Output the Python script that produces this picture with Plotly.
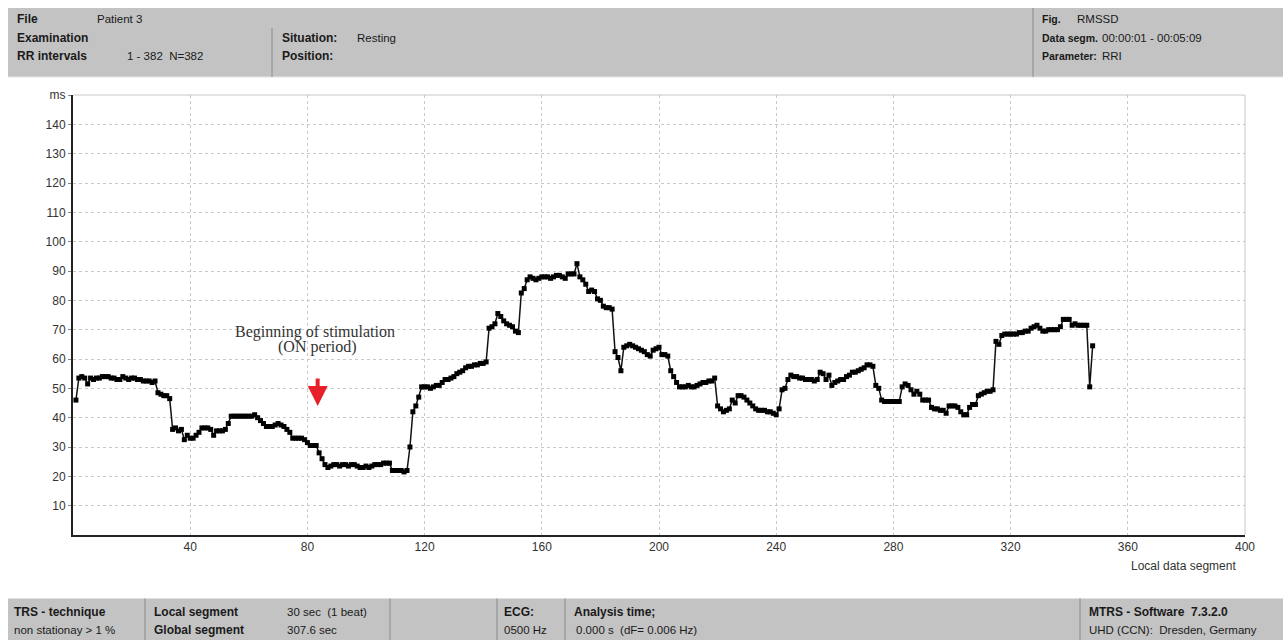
import plotly.graph_objects as go

# ---------------- data ----------------
segment_index = list(range(1, 349))
rmssd_ms = [
    46, 53.5, 54, 53.5, 51.5, 53.5, 53, 53.5, 53.5, 54,
    54, 54, 53.5, 53.5, 53, 53, 54, 53.5, 53, 53.5,
    53.5, 53, 53, 52.5, 52.5, 52.5, 52, 52.5, 48.5, 48,
    47.5, 47.5, 46.5, 36, 36.5, 35.5, 36, 32.5, 34, 33,
    33, 34, 35, 36.5, 36.5, 36.5, 36, 34, 35.5, 35.5,
    35.5, 36, 38, 40.5, 40.5, 40.5, 40.5, 40.5, 40.5, 40.5,
    40.5, 41, 40, 39, 38, 37, 37, 37, 37.5, 38,
    37.5, 37, 36, 35, 33, 33, 33, 33, 32.5, 31.5,
    30.5, 30.5, 30.5, 28, 26, 24, 23, 23.5, 24, 24,
    23.5, 24, 24, 23.5, 24, 24, 23.5, 23, 23, 23.5,
    23, 23.5, 24, 24, 24, 24.5, 24.5, 24.5, 22, 22,
    22, 22, 21.5, 22, 30, 42, 44, 47, 50.5, 50.5,
    50.5, 50, 50.5, 51, 51, 52, 53, 53, 53.5, 54,
    55, 55.5, 56, 57, 57.5, 57.5, 58, 58, 58.5, 58.5,
    59, 70.5, 71, 72, 75.5, 74.5, 73, 72, 71.5, 71,
    69.5, 69, 82.5, 84, 87, 88, 87.5, 87, 87.5, 88,
    88, 88, 87.5, 88, 88.5, 88.5, 88, 87.5, 89, 89,
    89, 92.5, 88, 87, 85.5, 83, 83.5, 83, 80.5, 80,
    78, 77.5, 77.5, 77, 62.5, 60.5, 56, 64, 64.5, 65,
    64.5, 64, 63.5, 63, 62.5, 61.5, 61, 63, 63.5, 64,
    61.5, 61.5, 61, 56, 54, 52, 50.5, 50.5, 50.5, 51,
    50.5, 50.5, 51, 51.5, 52, 52, 52.5, 52.5, 53.5, 44,
    43, 42, 42.5, 43, 46, 45, 47.5, 47.5, 47, 46,
    45, 44, 43, 42.5, 42.5, 42.5, 42, 42, 41.5, 41,
    43, 49.5, 50, 53, 54.5, 54, 54, 53.5, 53.5, 53,
    53, 53, 52.5, 53, 55.5, 55, 53, 54.5, 51, 52,
    52.5, 53, 53, 54, 54.5, 55.5, 55.5, 56, 56.5, 57,
    58, 58, 57.5, 51, 50, 46, 45.5, 45.5, 45.5, 45.5,
    45.5, 45.5, 50.5, 51.5, 51, 49.5, 48, 49, 48, 46,
    46, 46, 43.5, 43, 43, 42.5, 42.5, 41.5, 44, 44,
    44, 43.5, 42, 41, 41, 43.5, 44.5, 44.5, 47.5, 48,
    48.5, 49, 49, 49.5, 66, 65, 68, 68.5, 68.5, 68.5,
    68.5, 68.5, 69, 69, 69.5, 69.5, 70.5, 71, 71.5, 70.5,
    69.5, 69.5, 70, 70, 70, 70, 71, 73.5, 73.5, 73.5,
    71.5, 72, 71.5, 71.5, 71.5, 71.5, 50.5, 64.5,
]

x_tick_vals = [40, 80, 120, 160, 200, 240, 280, 320, 360, 400]
y_tick_vals = [10, 20, 30, 40, 50, 60, 70, 80, 90, 100, 110, 120, 130, 140, 150]
y_tick_text = [str(v) for v in y_tick_vals[:-1]] + ["ms"]

header_left = [("File", "Patient 3"), ("Examination", ""), ("RR intervals", "1 - 382\u00a0\u00a0N=382")]
header_mid = [("Situation:", "Resting"), ("Position:", "")]
header_right = [("Fig.", "RMSSD"), ("Data segm.", "00:00:01 - 00:05:09"), ("Parameter:", "RRI")]

# ---------------- layout geometry (pixels) ----------------
W, H = 1287, 640
L, R, T, B = 73, 1245, 95, 534.6


def px(x):
    return (x - L) / (R - L)


def py(y):
    return (B - y) / (B - T)


fig = go.Figure()
fig.add_trace(go.Scatter(
    x=segment_index, y=rmssd_ms, mode="lines+markers",
    line=dict(color="#111111", width=1.5),
    marker=dict(symbol="square", size=5, color="#000000"),
    showlegend=False, hoverinfo="x+y",
))

grid = dict(showgrid=True, gridcolor="#c9c9c9", gridwidth=1, griddash="3px,3px")
fig.update_xaxes(range=[0, 400], tickvals=x_tick_vals, zeroline=False,
                 showline=True, linecolor="#222222", linewidth=2,
                 tickfont=dict(family="Liberation Sans, Arial", size=12, color="#333333"),
                 ticks="", **grid)
fig.update_yaxes(range=[0, 150], tickvals=y_tick_vals, ticktext=y_tick_text, zeroline=False,
                 showline=True, linecolor="#222222", linewidth=2,
                 tickfont=dict(family="Liberation Sans, Arial", size=12, color="#333333"),
                 ticks="outside", ticklen=3, tickcolor="#888888", **grid)

shapes = []
# plot frame top / right (light gray)
shapes.append(dict(type="line", xref="paper", yref="paper", x0=0, x1=1, y0=1, y1=1,
                   line=dict(color="#c8c8c8", width=1)))
shapes.append(dict(type="line", xref="paper", yref="paper", x0=1, x1=1, y0=0, y1=1,
                   line=dict(color="#c8c8c8", width=1)))
# header band
shapes.append(dict(type="rect", xref="paper", yref="paper", x0=px(8), x1=px(1283), y0=py(77), y1=py(8),
                   fillcolor="#c3c3c3", line=dict(width=0), layer="below"))
shapes.append(dict(type="line", xref="paper", yref="paper", x0=px(8), x1=px(1283), y0=py(77), y1=py(77),
                   line=dict(color="#e2e2e2", width=1)))
shapes.append(dict(type="line", xref="paper", yref="paper", x0=px(272), x1=px(272), y0=py(77), y1=py(28),
                   line=dict(color="#8a8a8a", width=1)))
shapes.append(dict(type="line", xref="paper", yref="paper", x0=px(1033), x1=px(1033), y0=py(77), y1=py(8),
                   line=dict(color="#8a8a8a", width=1)))
# footer band
shapes.append(dict(type="rect", xref="paper", yref="paper", x0=px(8), x1=px(1283), y0=py(640), y1=py(598),
                   fillcolor="#c3c3c3", line=dict(width=0), layer="below"))
for xd in [145, 390, 497, 565, 1080]:
    shapes.append(dict(type="line", xref="paper", yref="paper", x0=px(xd), x1=px(xd), y0=py(640), y1=py(598),
                       line=dict(color="#8a8a8a", width=1)))

ann = []


def txt(x, y, s, bold=False, size=12, color="#1a1a1a"):
    ann.append(dict(xref="paper", yref="paper", x=px(x), y=py(y), text=("<b>%s</b>" % s) if bold else s,
                    showarrow=False, xanchor="left", yanchor="middle",
                    font=dict(family="Liberation Sans, Arial", size=size, color=color)))


rows = [19, 38, 56]
for (lab, val), yy in zip(header_left, rows):
    txt(15, yy, lab, bold=True)
    if val:
        txt(125 if lab != "File" else 95, yy, val, size=11.5)
for (lab, val), yy in zip(header_mid, rows[1:]):
    txt(280, yy, lab, bold=True)
    if val:
        txt(355, yy, val, size=11.5)
for (lab, val), yy in zip(header_right, rows):
    txt(1040, yy, lab, bold=True, size=10.5)
    txt(1075 if lab == "Fig." else 1100, yy, val, size=11.5)

# footer texts
txt(12, 612, "TRS - technique", bold=True)
txt(12, 630, "non stationay > 1 %", size=11.5)
txt(152, 612, "Local segment", bold=True)
txt(152, 630, "Global segment", bold=True)
txt(285, 612, "30 sec\u00a0\u00a0(1 beat)", size=11.5)
txt(285, 630, "307.6 sec", size=11.5)
txt(502, 612, "ECG:", bold=True)
txt(502, 630, "0500 Hz", size=11.5)
txt(572, 612, "Analysis time;", bold=True)
txt(574, 630, "0.000 s\u00a0\u00a0(dF= 0.006 Hz)", size=11.5)
txt(1087, 612, "MTRS - Software\u00a0\u00a07.3.2.0", bold=True)
txt(1087, 630, "UHD (CCN):\u00a0\u00a0Dresden, Germany", size=11.5)

# axis label
ann.append(dict(xref="paper", yref="paper", x=px(1238), y=py(566), text="Local data segment",
                showarrow=False, xanchor="right", yanchor="middle",
                font=dict(family="Liberation Sans, Arial", size=12, color="#333333")))

# stimulation annotation (two lines)
serif = dict(family="Liberation Serif, Times New Roman, serif", size=16, color="#333333")
ann.append(dict(xref="paper", yref="paper", x=px(315), y=py(332), text="Beginning of stimulation",
                showarrow=False, xanchor="center", yanchor="middle", font=serif))
ann.append(dict(xref="paper", yref="paper", x=px(317), y=py(347), text="(ON period)",
                showarrow=False, xanchor="center", yanchor="middle", font=serif))
ann.append(dict(xref="x", yref="y", x=83.5, y=44, text="", showarrow=True,
                ax=0, ay=-29, arrowcolor="#e8202a", arrowwidth=4, arrowhead=2, arrowsize=1))

fig.update_layout(width=W, height=H, margin=dict(l=L, r=W - R, t=T, b=H - B),
                  paper_bgcolor="white", plot_bgcolor="white",
                  shapes=shapes, annotations=ann, showlegend=False)

fig.write_html("out.html")
